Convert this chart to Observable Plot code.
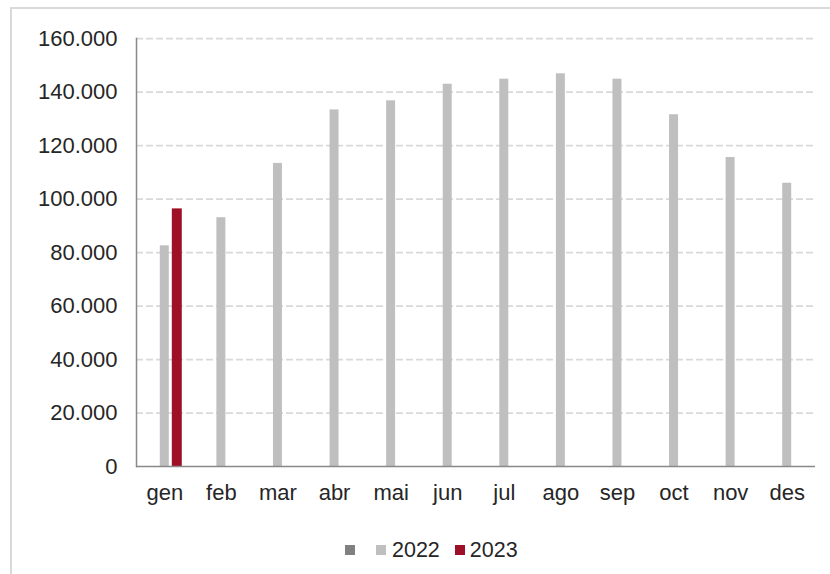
<!DOCTYPE html>
<html>
<head>
<meta charset="utf-8">
<script src="https://cdn.jsdelivr.net/npm/d3@7"></script>
<script src="https://cdn.jsdelivr.net/npm/@observablehq/plot@0.6"></script>
<style>
  html, body { margin: 0; padding: 0; background: #fff; overflow: hidden; }
  body { width: 830px; height: 574px; position: relative; font-family: "Liberation Sans", Arial, sans-serif; }
  #frame { position: absolute; left: 10px; top: 7px; width: 900px; height: 700px; border-left: 2px solid #d9d9d9; border-top: 2px solid #d9d9d9; }
  #chart { position: absolute; left: 0; top: 0; }
  #legend { position: absolute; left: 345px; top: 536px; display: flex; align-items: center; font-size: 21.5px; color: #262626; line-height: 28px; }
  .sw { width: 10px; height: 10px; display: inline-block; }
</style>
</head>
<body>
<div id="frame"></div>
<div id="chart"></div>
<div id="legend"></div>
<script>
const months = ["gen","feb","mar","abr","mai","jun","jul","ago","sep","oct","nov","des"];
const series = ["", "2022", "2023"];
const seriesColors = ["#808080", "#bfbfbf", "#9e1028"];
const values2022 = [82500, 93000, 113300, 133300, 136700, 142900, 144800, 146800, 144800, 131500, 115500, 105900];
const values2023 = [96300];
const yTicks = [0, 20000, 40000, 60000, 80000, 100000, 120000, 140000, 160000];

const data2022 = values2022.map((v, i) => ({month: months[i], value: v}));
const data2023 = values2023.map((v, i) => ({month: months[i], value: v}));

const fmt = d => d3.format(",")(d).replace(/,/g, ".");

const chart = Plot.plot({
  width: 830,
  height: 520,
  marginLeft: 136,
  marginRight: 15,
  marginTop: 38,
  marginBottom: 54,
  style: {fontFamily: "'Liberation Sans', Arial, sans-serif", background: "transparent"},
  x: {domain: months, padding: 0, round: false, axis: null, label: null},
  y: {domain: [0, 160000], axis: null, label: null},
  marks: [
    Plot.ruleY(yTicks.filter(d => d > 0), {stroke: "#d9d9d9", strokeWidth: 1.75, strokeDasharray: "7,3"}),
    Plot.barY(data2022, {x: "month", y: "value", fill: seriesColors[1], insetLeft: 23.8, insetRight: 23.8}),
    Plot.barY(data2023, {x: "month", y: "value", fill: seriesColors[2], insetLeft: 35.8, insetRight: 10.8}),
    Plot.ruleY([0], {stroke: "#898989", strokeWidth: 1.5}),
    Plot.frame({anchor: "left", stroke: "#898989", strokeWidth: 1.5}),
    Plot.axisY({ticks: yTicks, tickFormat: fmt, tickSize: 0, tickPadding: 19, fontSize: 22, color: "#262626", label: null}),
    Plot.axisX({anchor: "bottom", tickSize: 0, tickPadding: 18, fontSize: 22, color: "#262626", label: null})
  ]
});
document.getElementById("chart").appendChild(chart);

const legend = document.getElementById("legend");
const gaps = [[0, 21], [0, 6], [15, 5]];
series.forEach((s, i) => {
  const sw = document.createElement("span");
  sw.className = "sw";
  sw.style.background = seriesColors[i];
  sw.style.marginLeft = gaps[i][0] + "px";
  sw.style.marginRight = gaps[i][1] + "px";
  legend.appendChild(sw);
  if (s) {
    const t = document.createElement("span");
    t.textContent = s;
    legend.appendChild(t);
  }
});
</script>
</body>
</html>
